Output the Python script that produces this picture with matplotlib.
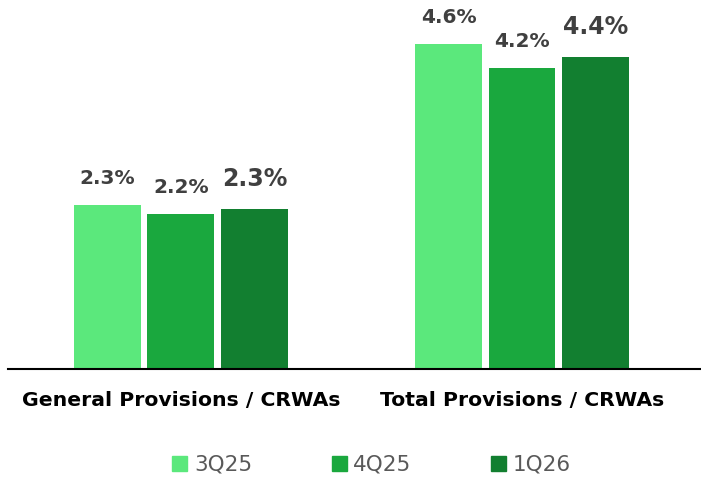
import numpy as np
import matplotlib
matplotlib.use("Agg")
import matplotlib.pyplot as plt

plt.rcParams["font.family"] = ["DejaVu Sans"]

categorias = ["General Provisions / CRWAs", "Total Provisions / CRWAs"]
series = ["3Q25", "4Q25", "1Q26"]
valores = {
    "3Q25": [2.33, 4.62],
    "4Q25": [2.20, 4.28],
    "1Q26": [2.28, 4.44],
}
rotulos = {
    "3Q25": ["2.3%", "4.6%"],
    "4Q25": ["2.2%", "4.2%"],
    "1Q26": ["2.3%", "4.4%"],
}
cores = ["#5BE87C", "#1AA83E", "#127F30"]

fig = plt.figure(figsize=(7.01, 4.94), dpi=100)
ax = fig.add_axes([8 / 701, 1 - 369 / 494, 693 / 701, 369 / 494])

x = np.arange(len(categorias))
passo = 0.2155
largura = 0.196

for i, s in enumerate(series):
    pos = x + (i - 1) * passo
    barras = ax.bar(pos, valores[s], width=largura, color=cores[i])
    tamanho = 17 if i == 2 else 14.5
    for b, txt in zip(barras, rotulos[s]):
        ax.text(b.get_x() + b.get_width() / 2, b.get_height() + 0.25, txt,
                ha="center", va="bottom", fontsize=tamanho, fontweight="bold",
                color="#404040")

ax.set_xlim(-0.507, 1.525)
ax.set_ylim(0, 369 / 70.3)
ax.set_yticks([])
ax.set_xticks(x)
ax.set_xticklabels(categorias, fontsize=14.7, fontweight="bold", color="black")
ax.tick_params(axis="x", length=0, pad=16)
for lado in ["top", "right", "left"]:
    ax.spines[lado].set_visible(False)
ax.spines["bottom"].set_linewidth(1.5)
ax.spines["bottom"].set_color("black")

handles = [plt.Rectangle((0, 0), 1, 1, color=c) for c in cores]
leg = fig.legend(handles, series, loc="center", bbox_to_anchor=(0.53, 0.059),
                 ncol=3, frameon=False, fontsize=15.5, handlelength=0.7,
                 handleheight=0.7, handletextpad=0.3, columnspacing=3.7)
for t in leg.get_texts():
    t.set_color("#595959")

fig.savefig("out.png", dpi=100)
